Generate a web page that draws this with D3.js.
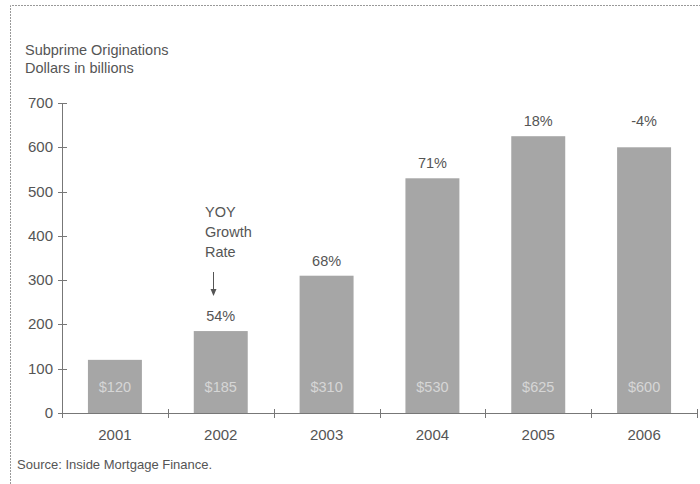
<!DOCTYPE html>
<html>
<head>
<meta charset="utf-8">
<script src="https://cdn.jsdelivr.net/npm/d3@7"></script>
<style>
  body { margin: 0; background: #fff; }
  svg text { font-family: "Liberation Sans", Arial, sans-serif; fill: #555; }
</style>
</head>
<body>
<svg id="chart" width="700" height="484"></svg>
<script>
// data
const years = ["2001", "2002", "2003", "2004", "2005", "2006"];
const originations = [120, 185, 310, 530, 625, 600];
const growth = [null, "54%", "68%", "71%", "18%", "-4%"];
const yTicks = [0, 100, 200, 300, 400, 500, 600, 700];

let svg = d3.select("#chart");

// frame (only top and left edges show)
svg.append("path")
    .attr("d", "M10.5,484 L10.5,5.5 L700,5.5")
    .attr("fill", "none")
    .attr("stroke", "#999")
    .attr("stroke-width", 1)
    .attr("stroke-dasharray", "2,1");

let x = d3.scaleBand()
    .domain(years)
    .range([62, 697])
    .paddingInner(0.49)
    .paddingOuter(0.245);

let y = d3.scaleLinear()
    .domain([0, 700])
    .range([413, 103]);

// titles
svg.append("text").attr("x", 25).attr("y", 55).style("font-size", "14.5px").text("Subprime Originations");
svg.append("text").attr("x", 25).attr("y", 73).style("font-size", "14.5px").text("Dollars in billions");

// bars
let data = years.map((d, i) => ({year: d, value: originations[i], growth: growth[i], prev: i > 0 ? originations[i - 1] : 0}));

svg.selectAll(".bar").data(data).enter().append("rect")
    .attr("class", "bar")
    .attr("x", d => x(d.year))
    .attr("y", d => y(d.value))
    .attr("width", x.bandwidth())
    .attr("height", d => y(0) - y(d.value))
    .attr("fill", "#a6a6a6");

// $ labels inside bars
svg.selectAll(".vlab").data(data).enter().append("text")
    .attr("class", "vlab")
    .attr("x", d => x(d.year) + x.bandwidth() / 2)
    .attr("y", y(0) - 21)
    .attr("text-anchor", "middle")
    .style("font-size", "14.5px")
    .style("fill", "#d6d6d6")
    .text(d => "$" + d.value);

// growth labels
svg.selectAll(".glab").data(data.filter(d => d.growth)).enter().append("text")
    .attr("class", "glab")
    .attr("x", d => x(d.year) + x.bandwidth() / 2)
    .attr("y", d => y(Math.max(d.value, d.prev)) - 10)
    .attr("text-anchor", "middle")
    .style("font-size", "14.5px")
    .text(d => d.growth);

// YOY annotation with arrow
let ann = svg.append("g");
["YOY", "Growth", "Rate"].forEach((t, i) => {
    ann.append("text").attr("x", 205).attr("y", 217 + i * 20).style("font-size", "14.5px").text(t);
});
ann.append("line").attr("x1", 213.5).attr("x2", 213.5).attr("y1", 272).attr("y2", 293)
    .attr("stroke", "#555").attr("stroke-width", 1);
ann.append("path").attr("d", "M210.5,289 L216.5,289 L213.5,296 Z").attr("fill", "#555");

// y axis
let yAxis = svg.append("g");
yAxis.append("line").attr("x1", 62.5).attr("x2", 62.5).attr("y1", y(700)).attr("y2", y(0))
    .attr("stroke", "#777");
yAxis.selectAll(".yt").data(yTicks).enter().append("line")
    .attr("x1", 58).attr("x2", 67)
    .attr("y1", d => Math.round(y(d)) + 0.5).attr("y2", d => Math.round(y(d)) + 0.5)
    .attr("stroke", "#777");
yAxis.selectAll(".ylab").data(yTicks).enter().append("text")
    .attr("x", 53)
    .attr("y", d => y(d) + 5)
    .attr("text-anchor", "end")
    .style("font-size", "15px")
    .text(d => d);

// x axis
let xAxis = svg.append("g");
xAxis.append("line").attr("x1", 62).attr("x2", 697).attr("y1", 413.5).attr("y2", 413.5)
    .attr("stroke", "#777");
let edges = years.map(d => x(d) - x.step() * x.paddingInner() / 2).concat([697]);
xAxis.selectAll(".xt").data(edges).enter().append("line")
    .attr("x1", d => Math.round(d) + 0.5).attr("x2", d => Math.round(d) + 0.5)
    .attr("y1", 409).attr("y2", 418)
    .attr("stroke", "#777");
xAxis.selectAll(".xlab").data(years).enter().append("text")
    .attr("x", d => x(d) + x.bandwidth() / 2)
    .attr("y", 440)
    .attr("text-anchor", "middle")
    .style("font-size", "15px")
    .text(d => d);

// source
svg.append("text").attr("x", 17).attr("y", 469).style("font-size", "13px").text("Source: Inside Mortgage Finance.");
</script>
</body>
</html>
